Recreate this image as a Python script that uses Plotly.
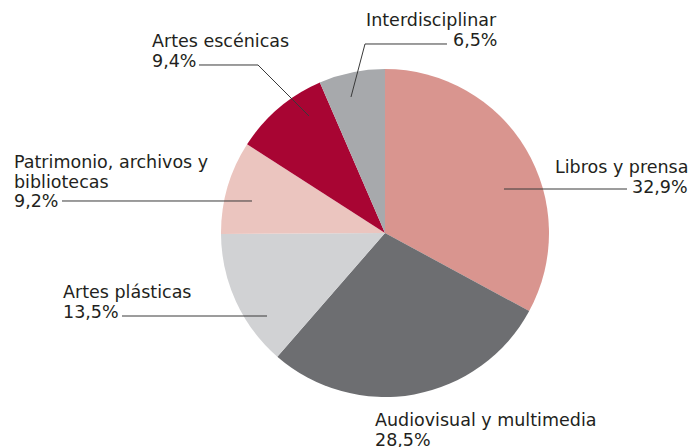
import plotly.graph_objects as go

W, H = 694, 447

sectors = ['Libros y prensa', 'Audiovisual y multimedia', 'Artes plásticas',
           'Patrimonio, archivos y bibliotecas', 'Artes escénicas', 'Interdisciplinar']
shares = [32.9, 28.5, 13.5, 9.2, 9.4, 6.5]
colors = ['#D9958F', '#6D6E71', '#D1D2D4', '#EBC5BF', '#A80533', '#A7A9AC']

# label lines as they are broken in the picture
label_lines = {
    'Libros y prensa': ['Libros y prensa'],
    'Audiovisual y multimedia': ['Audiovisual y multimedia'],
    'Artes plásticas': ['Artes plásticas'],
    'Patrimonio, archivos y bibliotecas': ['Patrimonio, archivos y', 'bibliotecas'],
    'Artes escénicas': ['Artes escénicas'],
    'Interdisciplinar': ['Interdisciplinar'],
}

# label placement in pixels: x, anchor, y centre of first line
label_pos = {
    'Libros y prensa': (690, 'right', 167),
    'Audiovisual y multimedia': (373, 'left', 420),
    'Artes plásticas': (61, 'left', 292),
    'Patrimonio, archivos y bibliotecas': (12, 'left', 162),
    'Artes escénicas': (150, 'left', 41),
    'Interdisciplinar': (499, 'right', 20),
}

# leader lines in pixels
leaders = {
    'Libros y prensa': [(627, 189), (504, 189)],
    'Artes plásticas': [(122, 316), (267, 316)],
    'Patrimonio, archivos y bibliotecas': [(62, 201), (252, 201)],
    'Artes escénicas': [(199, 65), (258, 65), (309, 116)],
    'Interdisciplinar': [(447, 44), (365, 44), (351, 97)],
}

LINE_H = 19.5
FONT = dict(family='DejaVu Sans', size=17.5, color='#231F20')


def px(x):
    return x / W


def py(y):
    return 1 - y / H


cx, cy, r = 385, 233, 164

fig = go.Figure(go.Pie(
    labels=sectors,
    values=shares,
    sort=False,
    direction='clockwise',
    rotation=0,
    marker=dict(colors=colors, line=dict(width=0)),
    textinfo='none',
    hoverinfo='label+percent',
    domain=dict(x=[px(cx - r), px(cx + r)], y=[py(cy + r), py(cy - r)]),
    showlegend=False,
))

annotations = []
for name, val in zip(sectors, shares):
    x, anchor, y0 = label_pos[name]
    lines = label_lines[name] + [f'{val:.1f}'.replace('.', ',') + '%']
    for i, t in enumerate(lines):
        annotations.append(dict(
            x=px(x), y=py(y0 + i * LINE_H), xref='paper', yref='paper',
            text=t, showarrow=False, xanchor=anchor, yanchor='middle',
            font=FONT,
        ))

shapes = []
for name, pts in leaders.items():
    path = 'M ' + ' L '.join(f'{px(a):.5f},{py(b):.5f}' for a, b in pts)
    shapes.append(dict(type='path', xref='paper', yref='paper', path=path,
                       line=dict(color='#3A3A3A', width=1)))

fig.update_layout(
    width=W, height=H,
    margin=dict(l=0, r=0, t=0, b=0),
    paper_bgcolor='white',
    plot_bgcolor='white',
    annotations=annotations,
    shapes=shapes,
)

fig.write_html('out.html', config={'displayModeBar': False},
               post_script="document.body.style.margin='0';")
